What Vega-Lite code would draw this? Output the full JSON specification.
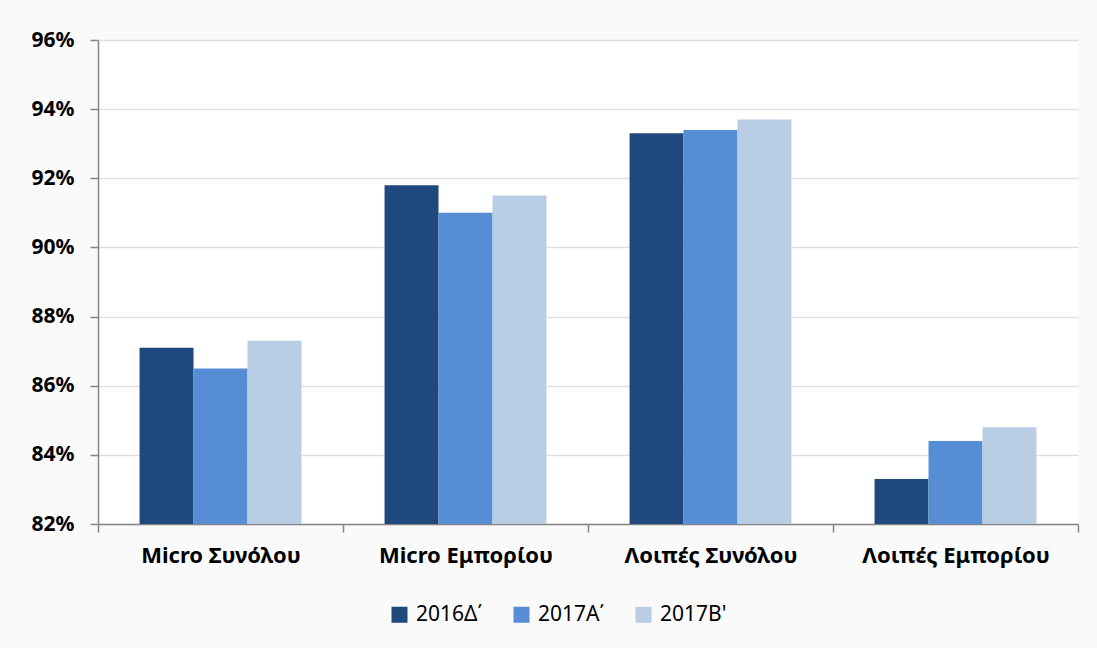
{
  "$schema": "https://vega.github.io/schema/vega-lite/v6.json",
  "width": 980,
  "height": 484,
  "autosize": "none",
  "padding": {"left": 98, "top": 40, "right": 19, "bottom": 124},
  "background": "#fafafa",
  "config": {
    "font": "Noto Sans",
    "view": {"stroke": null, "fill": "#ffffff"}
  },
  "data": {
    "values": [
      {"cat": "Micro Συνόλου", "series": "2016Δ΄", "v": 0.871},
      {"cat": "Micro Συνόλου", "series": "2017Α΄", "v": 0.865},
      {"cat": "Micro Συνόλου", "series": "2017Β'", "v": 0.873},
      {"cat": "Micro Εμπορίου", "series": "2016Δ΄", "v": 0.918},
      {"cat": "Micro Εμπορίου", "series": "2017Α΄", "v": 0.910},
      {"cat": "Micro Εμπορίου", "series": "2017Β'", "v": 0.915},
      {"cat": "Λοιπές Συνόλου", "series": "2016Δ΄", "v": 0.933},
      {"cat": "Λοιπές Συνόλου", "series": "2017Α΄", "v": 0.934},
      {"cat": "Λοιπές Συνόλου", "series": "2017Β'", "v": 0.937},
      {"cat": "Λοιπές Εμπορίου", "series": "2016Δ΄", "v": 0.833},
      {"cat": "Λοιπές Εμπορίου", "series": "2017Α΄", "v": 0.844},
      {"cat": "Λοιπές Εμπορίου", "series": "2017Β'", "v": 0.848}
    ]
  },
  "mark": {"type": "bar", "clip": true},
  "encoding": {
    "x": {
      "field": "cat",
      "type": "nominal",
      "sort": null,
      "title": null,
      "scale": {"paddingInner": 0, "paddingOuter": 0},
      "axis": {
        "labelAngle": 0,
        "labelFontSize": 22,
        "labelFontWeight": "bold",
        "labelColor": "#000000",
        "labelPadding": 13,
        "labelLimit": 400,
        "domainColor": "#868686",
        "domainWidth": 1.5,
        "tickColor": "#868686",
        "tickWidth": 1.5,
        "tickSize": 8,
        "ticks": true,
        "tickBand": "extent"
      }
    },
    "xOffset": {
      "field": "series",
      "type": "nominal",
      "sort": null,
      "scale": {"paddingInner": 0, "paddingOuter": 0.77}
    },
    "y": {
      "field": "v",
      "type": "quantitative",
      "title": null,
      "scale": {"domain": [0.82, 0.96], "zero": false, "nice": false},
      "axis": {
        "values": [0.82, 0.84, 0.86, 0.88, 0.90, 0.92, 0.94, 0.96],
        "format": ".0%",
        "labelFontSize": 21,
        "labelFontWeight": "bold",
        "labelColor": "#000000",
        "labelPadding": 16,
        "domainColor": "#868686",
        "domainWidth": 1.5,
        "tickColor": "#868686",
        "tickWidth": 1.5,
        "tickSize": 8,
        "gridColor": "#e0e0e0",
        "gridWidth": 1.5
      }
    },
    "color": {
      "field": "series",
      "type": "nominal",
      "sort": null,
      "scale": {"range": ["#1f497d", "#558ed5", "#b9cde5"]},
      "legend": {
        "title": null,
        "orient": "none",
        "legendX": 291,
        "legendY": 564,
        "direction": "horizontal",
        "symbolType": "square",
        "symbolSize": 256,
        "symbolStrokeWidth": 0,
        "labelFontSize": 21,
        "labelColor": "#000000",
        "columnPadding": 28,
        "labelOffset": 6
      }
    }
  }
}
